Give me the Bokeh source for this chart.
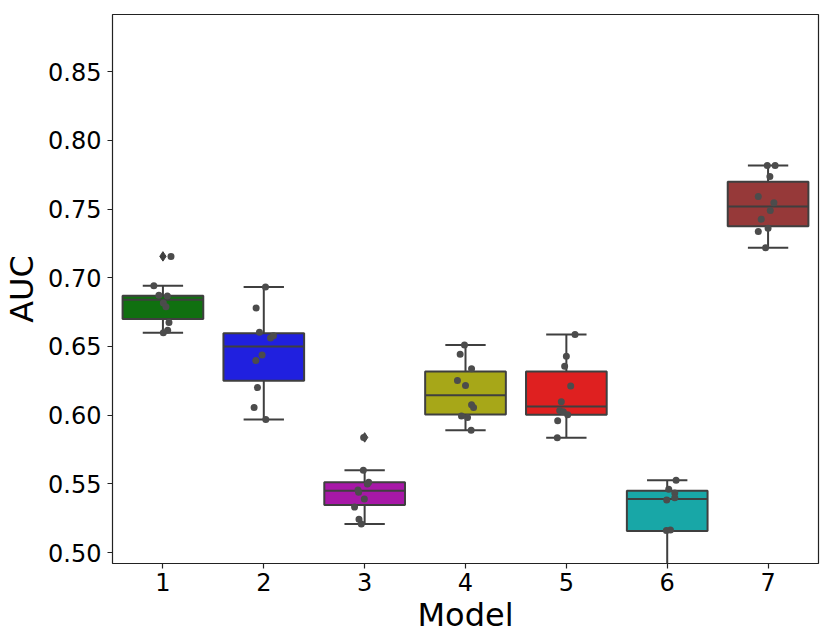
import numpy as np
from bokeh.plotting import figure
from bokeh.models import FixedTicker, Range1d, NumeralTickFormatter, ColumnDataSource
from bokeh.embed import file_html
from bokeh.resources import INLINE

# ---- data ----
models = ["1", "2", "3", "4", "5", "6", "7"]
box_colors = ["#107010", "#2020df", "#a718a7", "#a7a718", "#df2020", "#18a7a7", "#963939"]

q1 = [0.670, 0.6250, 0.5346, 0.6005, 0.6003, 0.5157, 0.7376]
median = [0.684, 0.650, 0.545, 0.6145, 0.6063, 0.539, 0.7519]
q3 = [0.687, 0.6596, 0.5511, 0.6318, 0.6318, 0.545, 0.770]
whisker_low = [0.660, 0.5969, 0.5208, 0.5891, 0.5835, 0.470, 0.7219]
whisker_high = [0.6943, 0.6933, 0.5598, 0.6511, 0.6587, 0.5526, 0.7817]

outlier_model = ["1", "3"]
outlier_auc = [0.7156, 0.5838]

auc_1 = [0.7156, 0.6943, 0.6873, 0.6868, 0.6816, 0.679, 0.6674, 0.6618, 0.660]
jit_1 = [0.08, -0.09, -0.04, 0.044, 0.004, 0.03, 0.06, 0.047, 0.004]
auc_2 = [0.6933, 0.678, 0.6603, 0.6562, 0.6579, 0.6438, 0.6398, 0.6201, 0.6056, 0.5969]
jit_2 = [0.017, -0.076, -0.043, 0.067, 0.096, -0.017, -0.079, -0.063, -0.096, 0.02]
auc_3 = [0.5838, 0.5598, 0.5511, 0.5498, 0.5455, 0.5438, 0.539, 0.5331, 0.5242, 0.5208]
jit_3 = [-0.01, -0.013, 0.04, 0.027, -0.066, -0.06, -0.003, -0.10, -0.056, -0.033]
auc_4 = [0.6511, 0.6443, 0.6337, 0.6252, 0.6216, 0.6075, 0.6056, 0.5993, 0.5983, 0.5891]
jit_4 = [-0.01, -0.053, 0.06, -0.08, 0.0, 0.06, 0.08, -0.04, 0.02, 0.056]
auc_5 = [0.6587, 0.6429, 0.6356, 0.6213, 0.6097, 0.6034, 0.6024, 0.6003, 0.5959, 0.5835]
jit_5 = [0.086, 0.0, -0.017, 0.043, -0.05, -0.066, -0.03, 0.013, -0.086, -0.09]
auc_6 = [0.5526, 0.546, 0.5433, 0.5399, 0.5382, 0.516, 0.5164, 0.485, 0.470]
jit_6 = [0.088, 0.015, 0.075, 0.075, -0.005, -0.008, 0.032, 0.0, 0.0]
auc_7 = [0.7817, 0.7817, 0.7737, 0.7592, 0.7546, 0.749, 0.7427, 0.7337, 0.7361, 0.7219]
jit_7 = [-0.008, 0.07, 0.018, -0.097, 0.058, 0.022, -0.068, -0.097, 0.0, -0.025]

y_ticks = [0.50, 0.55, 0.60, 0.65, 0.70, 0.75, 0.80, 0.85]

# ---- figure ----
FONT = "DejaVu Sans"
LINE = "#3f3f3f"

p = figure(output_backend="svg", toolbar_location=None,
           frame_width=706, frame_height=549,
           x_range=Range1d(-0.5, 6.5), y_range=Range1d(0.492, 0.8917),
           min_border_left=111, min_border_top=14, min_border_right=6, min_border_bottom=0)
p.background_fill_color = "white"
p.border_fill_color = "white"
p.xgrid.visible = False
p.ygrid.visible = False
p.outline_line_color = "#222222"
p.outline_line_width = 1.2

xs = np.arange(len(models))
half_box = 0.4
half_cap = 0.2

src = ColumnDataSource(dict(x=xs, q1=q1, q3=q3, med=median, lo=whisker_low, hi=whisker_high,
                            color=box_colors,
                            bx0=xs - half_box, bx1=xs + half_box,
                            cx0=xs - half_cap, cx1=xs + half_cap))

# whiskers
p.segment(x0="x", y0="q3", x1="x", y1="hi", source=src, line_color=LINE, line_width=2)
p.segment(x0="x", y0="q1", x1="x", y1="lo", source=src, line_color=LINE, line_width=2)
p.segment(x0="cx0", y0="hi", x1="cx1", y1="hi", source=src, line_color=LINE, line_width=2)
p.segment(x0="cx0", y0="lo", x1="cx1", y1="lo", source=src, line_color=LINE, line_width=2)
# boxes
p.vbar(x="x", width=2 * half_box, bottom="q1", top="q3", source=src,
       fill_color="color", line_color=LINE, line_width=2)
p.segment(x0="bx0", y0="med", x1="bx1", y1="med", source=src, line_color=LINE, line_width=2)

# outliers
ox = [models.index(m) for m in outlier_model]
p.scatter(ox, outlier_auc, marker="diamond", size=9.5, fill_color=LINE, line_color=LINE)

# strip points
all_auc = [auc_1, auc_2, auc_3, auc_4, auc_5, auc_6, auc_7]
all_jit = [jit_1, jit_2, jit_3, jit_4, jit_5, jit_6, jit_7]
px, py = [], []
for i, (a, j) in enumerate(zip(all_auc, all_jit)):
    px += [i + d for d in j]
    py += a
p.scatter(px, py, size=7, fill_color="#4c4c4c", line_color=None)

# axes
p.xaxis.ticker = FixedTicker(ticks=list(xs))
p.xaxis.major_label_overrides = {int(i): m for i, m in zip(xs, models)}
p.yaxis.ticker = FixedTicker(ticks=y_ticks)
p.yaxis.formatter = NumeralTickFormatter(format="0.00")
p.xaxis.axis_label = "Model"
p.yaxis.axis_label = "AUC"

for ax in (p.xaxis, p.yaxis):
    ax.axis_line_color = None
    ax.major_tick_line_color = "#222222"
    ax.major_tick_line_width = 1.2
    ax.major_tick_out = 5
    ax.major_tick_in = 0
    ax.minor_tick_line_color = None
    ax.major_label_text_font = FONT
    ax.major_label_text_font_size = "24px"
    ax.major_label_text_color = "black"
    ax.axis_label_text_font = FONT
    ax.axis_label_text_font_size = "32px"
    ax.axis_label_text_font_style = "normal"
    ax.axis_label_text_color = "black"

p.xaxis.major_label_standoff = 4
p.yaxis.major_label_standoff = 6
p.xaxis.axis_label_standoff = 2
p.yaxis.axis_label_standoff = 4

open("out.html", "w").write(file_html(p, INLINE))
